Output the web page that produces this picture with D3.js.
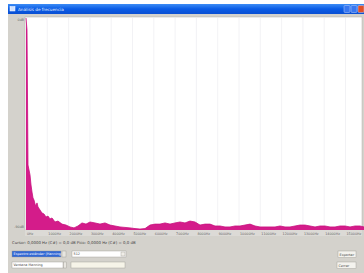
<!DOCTYPE html>
<html><head><meta charset="utf-8">
<script src="https://cdn.jsdelivr.net/npm/d3@7/dist/d3.min.js"></script>
<style>html,body{margin:0;padding:0;background:#fff;overflow:hidden}svg{display:block}</style>
</head><body>
<script>
// Spectrum data (Hz, dB)
const freqs = [0,47,94,141,188,235,282,329,376,423,469,516,563,657,751,845,939,1033,1127,1221,1362,1502,1690,1878,2066,2254,2441,2629,2817,3005,3239,3474,3709,3944,4178,4413,4648,4883,5118,5352,5587,5822,6057,6291,6526,6761,6996,7230,7465,7700,7935,8169,8404,8639,8874,9108,9343,9578,9813,10047,10282,10517,10752,10986,11221,11456,11691,11925,12160,12395,12630,12864,13099,13334,13569,13803,14038,14273,14508,14742,14977,15212,15447,15681,15869];
const levels = [0,-5.1,-62.4,-64.5,-66.6,-70.9,-73.9,-76.4,-77.3,-79.0,-79.8,-78.5,-80.2,-81.5,-82.8,-83.2,-84.5,-84.1,-85.3,-84.9,-86.6,-86.2,-87.5,-87.9,-88.7,-89.1,-88.3,-87.0,-87.5,-86.6,-87.0,-87.5,-87.0,-87.9,-88.3,-88.7,-88.9,-89.1,-89.4,-89.6,-89.4,-87.9,-87.5,-87.5,-87.0,-87.5,-87.0,-86.6,-87.0,-86.2,-86.6,-87.9,-87.5,-87.5,-88.3,-88.3,-88.7,-88.7,-88.3,-88.3,-87.9,-87.5,-88.3,-88.7,-88.7,-88.7,-88.7,-88.3,-88.7,-88.7,-88.3,-87.9,-87.9,-88.3,-88.7,-88.3,-88.3,-88.7,-88.7,-88.3,-88.3,-88.7,-88.3,-88.3,-88.7];
const freqTicks = [0,1000,2000,3000,4000,5000,6000,7000,8000,9000,10000,11000,12000,13000,14000,15000];
const freqTickLabels = ["0Hz","1000Hz","2000Hz","3000Hz","4000Hz","5000Hz","6000Hz","7000Hz","8000Hz","9000Hz","10000Hz","11000Hz","12000Hz","13000Hz","14000Hz","15000Hz"];
const dbTicks = [0,-90];
const dbTickLabels = ["0dB","-90dB"];

const W=364,H=273;
const svg=d3.select("body").append("svg").attr("width",W).attr("height",H);
const font="Tahoma, 'DejaVu Sans', sans-serif";

// window body
svg.append("rect").attr("x",8).attr("y",4).attr("width",W-8).attr("height",H-4).attr("fill","#d4d2cc");
// title bar
const tg=svg.append("defs").append("linearGradient").attr("id","tb").attr("x1",0).attr("x2",0).attr("y1",0).attr("y2",1);
tg.append("stop").attr("offset","0").attr("stop-color","#3d8cf5");
tg.append("stop").attr("offset","0.5").attr("stop-color","#0a5ce6");
tg.append("stop").attr("offset","1").attr("stop-color","#0a4fd2");
svg.append("rect").attr("x",8).attr("y",4).attr("width",W-8).attr("height",10).attr("fill","url(#tb)");
svg.append("rect").attr("x",10).attr("y",6.5).attr("width",5).attr("height",4.5).attr("fill","#cfe0ff").attr("stroke","#fff").attr("stroke-width",0.5);
svg.append("text").attr("x",18).attr("y",10.8).attr("font-family",font).attr("font-size",4.2).attr("fill","#e8f0ff").text("Análisis de frecuencia");
[[344,"#3a78f0"],[351,"#3a78f0"],[358,"#e0502a"]].forEach(([x,c])=>{
  svg.append("rect").attr("x",x).attr("y",5.5).attr("width",6).attr("height",7).attr("rx",1).attr("fill",c).attr("stroke","#dfe8ff").attr("stroke-width",0.4);
});

// plot area
const x=d3.scaleLinear().domain([0,16000]).range([26,366.8]);
const y=d3.scaleLinear().domain([-90,0]).range([230,18]);
svg.append("rect").attr("x",25).attr("y",17).attr("width",337).attr("height",213).attr("fill","#fff").attr("stroke","#b0aea8").attr("stroke-width",0.5);
svg.append("g").selectAll("line").data(freqTicks.slice(1)).join("line")
  .attr("x1",d=>x(d)).attr("x2",d=>x(d)).attr("y1",18).attr("y2",230)
  .attr("stroke","#efeff2").attr("stroke-width",0.8);

const data=freqs.map((f,i)=>({f,v:levels[i]}));
svg.append("path").datum(data)
  .attr("d",d3.area().x(d=>x(d.f)).y0(y(-90)).y1(d=>y(d.v)))
  .attr("fill","#d41c8a");
svg.append("path").datum(data)
  .attr("d",d3.line().x(d=>x(d.f)).y(d=>y(d.v)))
  .attr("fill","none").attr("stroke","#c8107e").attr("stroke-width",0.8);

// y labels
svg.append("g").selectAll("text").data(dbTicks).join("text")
  .attr("x",24).attr("y",d=>y(d)+(d===0?3:-2)).attr("text-anchor","end")
  .attr("font-family",font).attr("font-size",3.3).attr("fill","#666")
  .text((d,i)=>dbTickLabels[i]);

// x axis labels
const xa=svg.append("g");
xa.append("rect").attr("x",25).attr("y",230).attr("width",337).attr("height",6).attr("fill","#dcdad6");
xa.selectAll("text").data(freqTicks).join("text")
  .attr("x",d=>x(d)+1).attr("y",234.5)
  .attr("font-family",font).attr("font-size",3.3).attr("fill","#666")
  .text((d,i)=>freqTickLabels[i]);

// status text
svg.append("text").attr("x",12).attr("y",243.5).attr("font-family",font).attr("font-size",3.9).attr("fill","#444")
  .text("Cursor: 0,0000 Hz (C#) = 0,0 dB     Pico: 0,0000 Hz (C#) = 0,0 dB");

// controls
function box(x0,y0,w,h,fill,txt,tc){
  svg.append("rect").attr("x",x0).attr("y",y0).attr("width",w).attr("height",h).attr("fill",fill).attr("stroke","#9a9890").attr("stroke-width",0.4);
  if(txt) svg.append("text").attr("x",x0+1.5).attr("y",y0+h-1.6).attr("font-family",font).attr("font-size",3.4).attr("fill",tc||"#444").text(txt);
}
box(12,251,49,6,"#3168d5","Espectro estándar (Hanning)","#fff");
box(62,251,4,6,"#e8e6e0");
box(72,251,54,6,"#fff","512");
box(121,252,4,4,"#f0eee8");
box(12,262,51,6,"#fff","Ventana Hanning");
box(63.5,262,3,6,"#e8e6e0");
box(71,262,54,6,"#f6f4e8","");
box(338,251,18,6.5,"#f4f3ee","Exportar");
box(337,262,19,6.5,"#f4f3ee","Cerrar");
</script>
</body></html>
